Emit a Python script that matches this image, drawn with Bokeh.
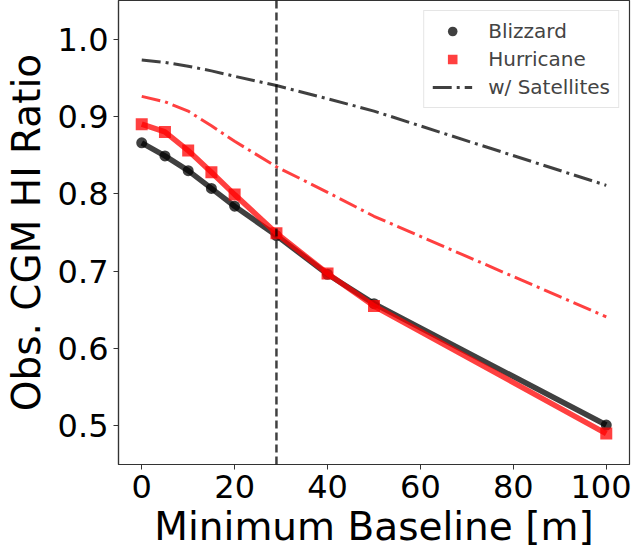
from bokeh.plotting import figure
from bokeh.models import Span, Legend, LegendItem, Range1d, FixedTicker, PrintfTickFormatter
from bokeh.embed import file_html
from bokeh.resources import INLINE

baseline = [0, 5, 10, 15, 20, 29, 40, 50, 100]
blizzard = [0.866, 0.849, 0.830, 0.807, 0.784, 0.746, 0.696, 0.658, 0.501]
hurricane = [0.890, 0.880, 0.856, 0.828, 0.799, 0.749, 0.697, 0.655, 0.490]
blizzard_sat = [0.973, 0.970, 0.965, 0.959, 0.952, 0.940, 0.923, 0.907, 0.811]
hurricane_sat = [0.926, 0.919, 0.907, 0.888, 0.868, 0.835, 0.802, 0.771, 0.641]
cut_baseline = 29
x_ticks = [0, 20, 40, 60, 80, 100]
y_ticks = [0.5, 0.6, 0.7, 0.8, 0.9, 1.0]

FONT = "DejaVu Sans"
BLACK = "#000000"
RED = "#ff0000"

p = figure(width=623, height=541, output_backend="svg", toolbar_location=None,
           x_range=Range1d(-5, 105), y_range=Range1d(0.45, 1.05),
           frame_width=511, frame_height=464,
           min_border_left=110, min_border_right=2, min_border_top=0, min_border_bottom=0)

p.background_fill_color = "white"
p.border_fill_color = "white"
p.outline_line_color = "#333333"
p.outline_line_width = 1.2
p.xgrid.visible = False
p.ygrid.visible = False

for ax in (p.xaxis[0], p.yaxis[0]):
    ax.axis_line_color = "#333333"
    ax.axis_line_width = 1.2
    ax.major_tick_line_color = "#333333"
    ax.major_tick_out = 5
    ax.major_tick_in = 0
    ax.minor_tick_out = 0
    ax.minor_tick_in = 0
    ax.major_label_text_font = FONT
    ax.major_label_text_font_size = "32px"
    ax.major_label_text_color = "black"
    ax.axis_label_text_font = FONT
    ax.axis_label_text_font_size = "39px"
    ax.axis_label_text_font_style = "normal"
    ax.axis_label_text_color = "black"

p.xaxis.ticker = FixedTicker(ticks=x_ticks)
p.yaxis.ticker = FixedTicker(ticks=y_ticks)
p.yaxis.formatter = PrintfTickFormatter(format="%.1f")
p.xaxis.axis_label = "Minimum Baseline [m]"
p.yaxis.axis_label = "Obs. CGM HI Ratio"
p.xaxis.major_label_standoff = 5
p.xaxis.axis_label_standoff = 3
p.yaxis.major_label_standoff = 5
p.yaxis.axis_label_standoff = 6

# satellite curves
sat_b = p.line(baseline, blizzard_sat, line_color=BLACK, line_alpha=0.75, line_width=3, line_dash="19 5 3 5")
p.line(baseline, hurricane_sat, line_color=RED, line_alpha=0.75, line_width=3, line_dash="19 5 3 5")

# main curves
p.line(baseline, blizzard, line_color=BLACK, line_alpha=0.75, line_width=5.5)
bl = p.scatter(baseline, blizzard, marker="circle", size=11, fill_color=BLACK, fill_alpha=0.75, line_color=None)
p.line(baseline, hurricane, line_color=RED, line_alpha=0.75, line_width=5.5)
hu = p.scatter(baseline, hurricane, marker="square", size=12, fill_color=RED, fill_alpha=0.75, line_color=None)

p.add_layout(Span(location=cut_baseline, dimension="height", line_color=BLACK, line_alpha=0.75,
                  line_width=2.5, line_dash="8 4"))

legend = Legend(items=[LegendItem(label="Blizzard", renderers=[bl]),
                       LegendItem(label="Hurricane", renderers=[hu]),
                       LegendItem(label="w/ Satellites", renderers=[sat_b])],
                location="top_right", margin=10, padding=8, spacing=4,
                label_text_font=FONT, label_text_font_size="20px", label_standoff=16,
                glyph_width=40, glyph_height=24, label_height=24,
                border_line_color="#cccccc", border_line_width=1,
                background_fill_color="white", background_fill_alpha=0.8)
p.add_layout(legend)

open("out.html", "w").write(file_html(p, INLINE))
